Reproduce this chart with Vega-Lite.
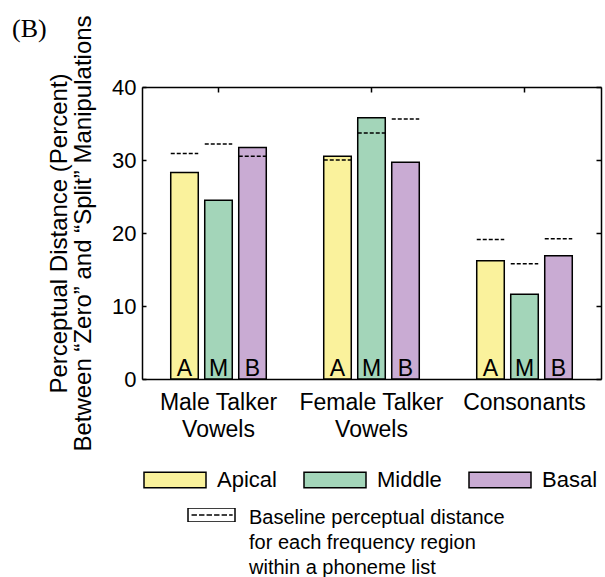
{
  "$schema": "https://vega.github.io/schema/vega-lite/v6.json",
  "width": 459,
  "height": 292,
  "autosize": {"type": "none"},
  "padding": {"left": 142, "top": 87, "right": 4, "bottom": 198},
  "background": "white",
  "title": {"text": "(B)", "anchor": "start", "frame": "group", "font": "Liberation Serif", "fontSize": 26, "fontWeight": "normal", "color": "black", "dx": -130, "offset": -27},
  "config": {
    "view": {"stroke": null},
    "axis": {"domainColor": "black", "domainWidth": 1.5, "tickColor": "black", "tickWidth": 1.5, "grid": false, "labelColor": "black", "labelFont": "Liberation Sans", "titleColor": "black", "titleFont": "Liberation Sans", "titleFontWeight": "normal"},
    "legend": {"labelFont": "Liberation Sans", "labelColor": "black", "titleFont": "Liberation Sans", "titleColor": "black", "padding": 0}
  },
  "data": {
    "values": [
      {"group": "Male Talker Vowels", "region": "Apical", "letter": "A", "value": 28.3, "baseline": 30.9},
      {"group": "Male Talker Vowels", "region": "Middle", "letter": "M", "value": 24.5, "baseline": 32.2},
      {"group": "Male Talker Vowels", "region": "Basal", "letter": "B", "value": 31.7, "baseline": 30.5},
      {"group": "Female Talker Vowels", "region": "Apical", "letter": "A", "value": 30.5, "baseline": 30.0},
      {"group": "Female Talker Vowels", "region": "Middle", "letter": "M", "value": 35.8, "baseline": 33.7},
      {"group": "Female Talker Vowels", "region": "Basal", "letter": "B", "value": 29.7, "baseline": 35.6},
      {"group": "Consonants", "region": "Apical", "letter": "A", "value": 16.2, "baseline": 19.1},
      {"group": "Consonants", "region": "Middle", "letter": "M", "value": 11.6, "baseline": 15.8},
      {"group": "Consonants", "region": "Basal", "letter": "B", "value": 16.9, "baseline": 19.2}
    ]
  },
  "resolve": {"axis": {"x": "independent", "y": "independent"}},
  "layer": [
    {
      "mark": {"type": "bar", "stroke": "black", "strokeWidth": 1.5},
      "encoding": {
        "x": {"field": "group", "type": "nominal", "sort": ["Male Talker Vowels", "Female Talker Vowels", "Consonants"], "scale": {"paddingInner": 0, "paddingOuter": 0},
          "axis": {"orient": "bottom", "title": null, "ticks": false, "labelAngle": 0, "labelFontSize": 23, "labelLineHeight": 27, "labelPadding": 12, "labelBaseline": "top",
            "labelExpr": "datum.value == 'Consonants' ? 'Consonants' : [replace(datum.value, ' Vowels', ''), 'Vowels']"}},
        "xOffset": {"field": "region", "type": "nominal", "sort": ["Apical", "Middle", "Basal"], "scale": {"paddingInner": 0.19, "paddingOuter": 0.845}},
        "y": {"field": "value", "type": "quantitative", "scale": {"domain": [0, 40], "nice": false},
          "axis": {"orient": "left", "values": [0, 10, 20, 30, 40], "tickSize": -4, "labelFontSize": 22, "labelPadding": 10,
            "title": ["Perceptual Distance (Percent)", "Between “Zero” and “Split” Manipulations"],
            "titleFontSize": 24, "titleLineHeight": 24, "titleAngle": -90, "titleBaseline": "top", "titleAlign": "center", "titleX": -95, "titleY": 146}},
        "fill": {"field": "region", "type": "nominal",
          "scale": {"domain": ["Apical", "Middle", "Basal"], "range": ["#FAF29C", "#A3D5B9", "#C9ABD3"]},
          "legend": {"orient": "none", "legendX": 1, "legendY": 361, "direction": "horizontal", "columns": 3, "columnPadding": 24, "title": null,
            "symbolType": "M-1,-0.25H1V0.25H-1Z", "symbolSize": 3844, "symbolStrokeColor": "black", "symbolStrokeWidth": 1.5, "symbolOpacity": 1,
            "labelFontSize": 22, "labelOffset": 10, "labelBaseline": "middle"}}
      }
    },
    {
      "mark": {"type": "point", "shape": "stroke", "size": 756, "filled": false, "strokeWidth": 1.5, "strokeDash": [4, 2], "opacity": 1},
      "encoding": {
        "x": {"field": "group", "type": "nominal", "sort": ["Male Talker Vowels", "Female Talker Vowels", "Consonants"],
          "axis": {"orient": "top", "title": null, "labels": false, "ticks": true, "tickSize": -5}},
        "xOffset": {"field": "region", "type": "nominal", "sort": ["Apical", "Middle", "Basal"]},
        "y": {"field": "baseline", "type": "quantitative", "scale": {"domain": [0, 40], "nice": false},
          "axis": {"orient": "right", "title": null, "labels": false, "values": [0, 10, 20, 30, 40], "tickSize": -5}},
        "stroke": {"datum": "Baseline", "type": "nominal", "scale": {"range": ["black"]},
          "legend": {"orient": "none", "legendX": 45, "legendY": 421, "clipHeight": 14,
            "title": ["Baseline perceptual distance", "for each frequency region", "within a phoneme list"],
            "titleOrient": "right", "titleFontSize": 20, "titleFontWeight": "normal", "titleLineHeight": 25, "titleBaseline": "top", "titleAnchor": "start", "titlePadding": 13, "titleLimit": 0,
            "symbolType": "M-1,-0.3H1V0.3H-1Z M-0.85,0H-0.62 M-0.53,0H-0.3 M-0.21,0H0.02 M0.11,0H0.34 M0.43,0H0.66 M0.75,0H0.9", "symbolSize": 2209,
            "symbolStrokeWidth": 1.5, "symbolFillColor": "transparent", "symbolOpacity": 1, "symbolDash": [],
            "labelExpr": "''", "labelOffset": 0, "labelFontSize": 1}}
      }
    },
    {
      "mark": {"type": "text", "baseline": "alphabetic", "dy": -3, "fontSize": 23, "font": "Liberation Sans", "color": "black"},
      "encoding": {
        "x": {"field": "group", "type": "nominal", "sort": ["Male Talker Vowels", "Female Talker Vowels", "Consonants"], "axis": null},
        "xOffset": {"field": "region", "type": "nominal", "sort": ["Apical", "Middle", "Basal"]},
        "y": {"datum": 0, "type": "quantitative", "axis": null},
        "text": {"field": "letter"}
      }
    }
  ]
}
